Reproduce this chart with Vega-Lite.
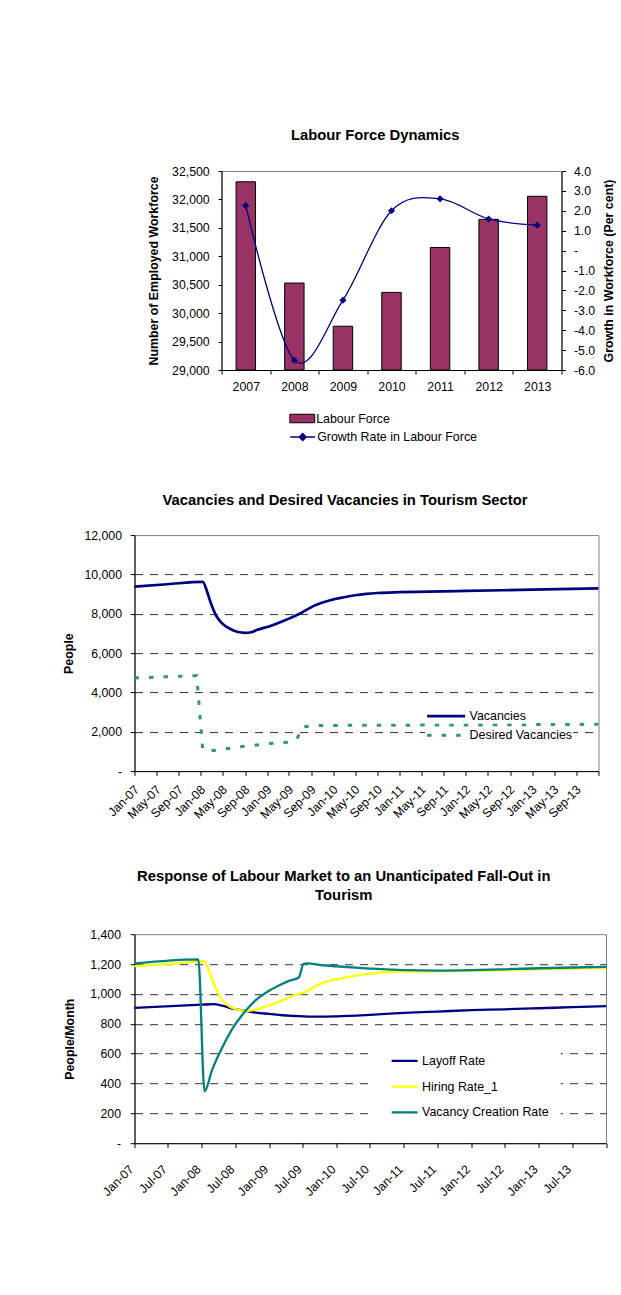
{
  "$schema": "https://vega.github.io/schema/vega-lite/v6.json",
  "background": "white",
  "padding": {"left": 61.5, "top": 127, "right": 0, "bottom": 0},
  "config": {
    "font": "Liberation Sans",
    "view": {"stroke": "#808080", "strokeWidth": 1},
    "axis": {
      "labelFont": "Liberation Sans",
      "labelFontSize": 12.3,
      "labelColor": "black",
      "titleFont": "Liberation Sans",
      "titleFontSize": 12.4,
      "titleFontWeight": "bold",
      "titleColor": "black",
      "domainColor": "black",
      "tickColor": "black",
      "domainWidth": 1,
      "tickWidth": 1,
      "grid": false,
      "labelOverlap": false,
      "labelFlush": false
    },
    "title": {"font": "Liberation Sans", "fontSize": 14.8, "fontWeight": "bold", "color": "black"},
    "legend": {"labelFont": "Liberation Sans", "labelFontSize": 12.4, "labelColor": "black", "title": null}
  },
  "datasets": {
    "labour": [
      {"year": "2007", "workforce": 32310, "growth": 2.26},
      {"year": "2008", "workforce": 30530, "growth": -5.51},
      {"year": "2009", "workforce": 29770, "growth": -2.49},
      {"year": "2010", "workforce": 30365, "growth": 2.0},
      {"year": "2011", "workforce": 31155, "growth": 2.6},
      {"year": "2012", "workforce": 31650, "growth": 1.59},
      {"year": "2013", "workforce": 32055, "growth": 1.28}
    ],
    "vacancies": [
      {"month": "2007-01-01", "value": 9380},
      {"month": "2007-07-01", "value": 9500},
      {"month": "2008-01-12", "value": 9625},
      {"month": "2008-02-07", "value": 9070},
      {"month": "2008-02-28", "value": 8480},
      {"month": "2008-03-25", "value": 7920},
      {"month": "2008-04-25", "value": 7540},
      {"month": "2008-06-10", "value": 7240},
      {"month": "2008-07-25", "value": 7070},
      {"month": "2008-09-01", "value": 7030},
      {"month": "2008-10-05", "value": 7060},
      {"month": "2008-11-04", "value": 7170},
      {"month": "2009-01-15", "value": 7370},
      {"month": "2009-04-20", "value": 7710},
      {"month": "2009-07-10", "value": 8050},
      {"month": "2009-09-12", "value": 8390},
      {"month": "2009-12-15", "value": 8690},
      {"month": "2010-03-01", "value": 8840},
      {"month": "2010-05-01", "value": 8940},
      {"month": "2010-07-01", "value": 9010},
      {"month": "2010-09-01", "value": 9055},
      {"month": "2011-01-01", "value": 9100},
      {"month": "2012-01-01", "value": 9160},
      {"month": "2013-01-01", "value": 9225},
      {"month": "2014-01-01", "value": 9290}
    ],
    "desired": [
      {"month": "2007-01-01", "value": 4740},
      {"month": "2007-12-10", "value": 4850},
      {"month": "2008-01-12", "value": 1100},
      {"month": "2008-03-15", "value": 1050},
      {"month": "2008-08-01", "value": 1230},
      {"month": "2009-02-01", "value": 1420},
      {"month": "2009-05-01", "value": 1475},
      {"month": "2009-06-12", "value": 1610},
      {"month": "2009-07-18", "value": 2254},
      {"month": "2009-10-18", "value": 2320},
      {"month": "2010-06-01", "value": 2330},
      {"month": "2012-01-01", "value": 2345},
      {"month": "2014-01-01", "value": 2380}
    ],
    "labour_market": [
      {"series": "Layoff Rate", "month": "2007-01-01", "value": 906},
      {"series": "Layoff Rate", "month": "2008-01-01", "value": 928},
      {"series": "Layoff Rate", "month": "2008-03-05", "value": 931},
      {"series": "Layoff Rate", "month": "2008-04-20", "value": 922},
      {"series": "Layoff Rate", "month": "2008-06-15", "value": 902},
      {"series": "Layoff Rate", "month": "2008-08-10", "value": 890},
      {"series": "Layoff Rate", "month": "2008-10-20", "value": 875},
      {"series": "Layoff Rate", "month": "2009-01-01", "value": 866},
      {"series": "Layoff Rate", "month": "2009-03-12", "value": 857},
      {"series": "Layoff Rate", "month": "2009-05-20", "value": 852},
      {"series": "Layoff Rate", "month": "2009-08-01", "value": 848},
      {"series": "Layoff Rate", "month": "2009-10-15", "value": 848},
      {"series": "Layoff Rate", "month": "2010-01-01", "value": 850},
      {"series": "Layoff Rate", "month": "2010-07-01", "value": 860},
      {"series": "Layoff Rate", "month": "2011-01-01", "value": 873},
      {"series": "Layoff Rate", "month": "2011-07-01", "value": 882},
      {"series": "Layoff Rate", "month": "2012-01-01", "value": 891},
      {"series": "Layoff Rate", "month": "2012-07-01", "value": 897},
      {"series": "Layoff Rate", "month": "2013-01-01", "value": 904},
      {"series": "Layoff Rate", "month": "2013-07-01", "value": 911},
      {"series": "Layoff Rate", "month": "2014-01-01", "value": 918},
      {"series": "Hiring Rate_1", "month": "2007-01-01", "value": 1186},
      {"series": "Hiring Rate_1", "month": "2007-07-01", "value": 1200},
      {"series": "Hiring Rate_1", "month": "2008-01-12", "value": 1219},
      {"series": "Hiring Rate_1", "month": "2008-02-01", "value": 1181},
      {"series": "Hiring Rate_1", "month": "2008-02-28", "value": 1092},
      {"series": "Hiring Rate_1", "month": "2008-03-25", "value": 1013},
      {"series": "Hiring Rate_1", "month": "2008-04-22", "value": 957},
      {"series": "Hiring Rate_1", "month": "2008-05-28", "value": 917},
      {"series": "Hiring Rate_1", "month": "2008-07-12", "value": 895},
      {"series": "Hiring Rate_1", "month": "2008-09-06", "value": 886},
      {"series": "Hiring Rate_1", "month": "2008-10-18", "value": 895},
      {"series": "Hiring Rate_1", "month": "2009-01-01", "value": 924},
      {"series": "Hiring Rate_1", "month": "2009-03-12", "value": 957},
      {"series": "Hiring Rate_1", "month": "2009-05-21", "value": 991},
      {"series": "Hiring Rate_1", "month": "2009-07-15", "value": 1013},
      {"series": "Hiring Rate_1", "month": "2009-10-15", "value": 1074},
      {"series": "Hiring Rate_1", "month": "2010-01-01", "value": 1098},
      {"series": "Hiring Rate_1", "month": "2010-07-01", "value": 1136},
      {"series": "Hiring Rate_1", "month": "2011-01-01", "value": 1150},
      {"series": "Hiring Rate_1", "month": "2011-07-01", "value": 1152},
      {"series": "Hiring Rate_1", "month": "2012-01-01", "value": 1155},
      {"series": "Hiring Rate_1", "month": "2012-07-01", "value": 1160},
      {"series": "Hiring Rate_1", "month": "2013-01-01", "value": 1165},
      {"series": "Hiring Rate_1", "month": "2013-07-01", "value": 1170},
      {"series": "Hiring Rate_1", "month": "2014-01-01", "value": 1173},
      {"series": "Vacancy Creation Rate", "month": "2007-01-01", "value": 1204},
      {"series": "Vacancy Creation Rate", "month": "2007-12-13", "value": 1232},
      {"series": "Vacancy Creation Rate", "month": "2008-01-16", "value": 347},
      {"series": "Vacancy Creation Rate", "month": "2008-02-25", "value": 488},
      {"series": "Vacancy Creation Rate", "month": "2008-04-22", "value": 644},
      {"series": "Vacancy Creation Rate", "month": "2008-06-15", "value": 767},
      {"series": "Vacancy Creation Rate", "month": "2008-08-28", "value": 890},
      {"series": "Vacancy Creation Rate", "month": "2008-10-18", "value": 957},
      {"series": "Vacancy Creation Rate", "month": "2008-12-12", "value": 1007},
      {"series": "Vacancy Creation Rate", "month": "2009-02-25", "value": 1058},
      {"series": "Vacancy Creation Rate", "month": "2009-04-18", "value": 1087},
      {"series": "Vacancy Creation Rate", "month": "2009-06-10", "value": 1110},
      {"series": "Vacancy Creation Rate", "month": "2009-07-06", "value": 1201},
      {"series": "Vacancy Creation Rate", "month": "2009-07-25", "value": 1204},
      {"series": "Vacancy Creation Rate", "month": "2009-10-15", "value": 1192},
      {"series": "Vacancy Creation Rate", "month": "2010-01-01", "value": 1185},
      {"series": "Vacancy Creation Rate", "month": "2010-07-01", "value": 1170},
      {"series": "Vacancy Creation Rate", "month": "2011-01-01", "value": 1159},
      {"series": "Vacancy Creation Rate", "month": "2011-07-01", "value": 1156},
      {"series": "Vacancy Creation Rate", "month": "2012-01-01", "value": 1159},
      {"series": "Vacancy Creation Rate", "month": "2012-07-01", "value": 1165},
      {"series": "Vacancy Creation Rate", "month": "2013-01-01", "value": 1172},
      {"series": "Vacancy Creation Rate", "month": "2013-07-01", "value": 1177},
      {"series": "Vacancy Creation Rate", "month": "2014-01-01", "value": 1181}
    ]
  },
  "columns": 1,
  "align": "none",
  "spacing": 47.1,
  "resolve": {
    "scale": {"color": "independent", "fill": "independent", "stroke": "independent", "strokeDash": "independent"},
    "legend": {"color": "independent", "fill": "independent", "stroke": "independent", "strokeDash": "independent"}
  },
  "concat": [
    {
      "spacing": 0,
      "resolve": {
        "scale": {"fill": "independent", "stroke": "independent"},
        "legend": {"fill": "independent", "stroke": "independent"}
      },
      "hconcat": [
        {
          "width": 12,
          "height": 10,
          "view": {"stroke": null},
          "data": {"values": []},
          "mark": {"type": "point", "opacity": 0}
        },
        {
          "width": 340,
          "height": 199,
          "title": {"text": "Labour Force Dynamics", "offset": 22, "dx": -16.3},
          "data": {"name": "labour"},
          "layer": [
            {
              "mark": {"type": "bar", "stroke": "black", "strokeWidth": 1, "width": {"band": 0.4}},
              "encoding": {
                "x": {
                  "field": "year",
                  "type": "ordinal",
                  "scale": {"paddingInner": 0, "paddingOuter": 0},
                  "axis": {"title": null, "labelAngle": 0, "tickBand": "extent", "tickSize": 4, "labelPadding": 6.5}
                },
                "y": {
                  "field": "workforce",
                  "type": "quantitative",
                  "scale": {"domain": [29000, 32500], "zero": false, "nice": false},
                  "axis": {
                    "title": "Number of Employed Workforce",
                    "values": [29000, 29500, 30000, 30500, 31000, 31500, 32000, 32500],
                    "labelExpr": "format(datum.value, ',')",
                    "tickSize": 3.5,
                    "labelPadding": 8.8,
                    "titlePadding": 11.4
                  }
                },
                "y2": {"datum": 29000},
                "fill": {
                  "datum": "Labour Force",
                  "type": "nominal",
                  "scale": {"range": ["#993366"]},
                  "legend": {
                    "orient": "none",
                    "legendX": 67.7,
                    "legendY": 241.5,
                    "padding": 0,
                    "clipHeight": 12,
                    "symbolType": "M-1,-0.34H1V0.34H-1Z",
                    "symbolSize": 625,
                    "symbolStrokeColor": "black",
                    "symbolStrokeWidth": 1,
                    "labelOffset": 1
                  }
                }
              }
            },
            {
              "layer": [
                {
                  "mark": {"type": "line", "interpolate": "cardinal", "strokeWidth": 1.3},
                  "encoding": {
                    "x": {"field": "year", "type": "ordinal"},
                    "y": {
                      "field": "growth",
                      "type": "quantitative",
                      "scale": {"domain": [-6, 4], "zero": false, "nice": false},
                      "axis": {
                        "orient": "right",
                        "title": "Growth in Workforce (Per cent)",
                        "titleAngle": 270,
                        "titleBaseline": "top",
                        "values": [-6, -5, -4, -3, -2, -1, 0, 1, 2, 3, 4],
                        "labelExpr": "datum.value == 0 ? '-' : (datum.value < 0 ? '-' : '') + format(abs(datum.value), '.1f')",
                        "tickSize": 4,
                        "labelPadding": 8,
                        "titlePadding": 7.5
                      }
                    },
                    "stroke": {
                      "datum": "Growth Rate in Labour Force",
                      "type": "nominal",
                      "scale": {"range": ["#000080"]},
                      "legend": {
                        "orient": "none",
                        "legendX": 67.7,
                        "legendY": 260,
                        "padding": 0,
                        "clipHeight": 12,
                        "symbolType": "M-1,0H1M0,-0.28L0.28,0L0,0.28L-0.28,0Z",
                        "symbolSize": 625,
                        "symbolStrokeWidth": 1.3,
                        "symbolFillColor": "#000080",
                        "labelOffset": 1
                      }
                    }
                  }
                },
                {
                  "mark": {"type": "point", "shape": "diamond", "filled": true, "size": 50, "color": "#000080", "opacity": 1},
                  "encoding": {
                    "x": {"field": "year", "type": "ordinal"},
                    "y": {
                      "field": "growth",
                      "type": "quantitative",
                      "scale": {"domain": [-6, 4], "zero": false, "nice": false},
                      "axis": {
                        "orient": "right",
                        "title": "Growth in Workforce (Per cent)",
                        "titleAngle": 270,
                        "titleBaseline": "top",
                        "values": [-6, -5, -4, -3, -2, -1, 0, 1, 2, 3, 4],
                        "labelExpr": "datum.value == 0 ? '-' : (datum.value < 0 ? '-' : '') + format(abs(datum.value), '.1f')",
                        "tickSize": 4,
                        "labelPadding": 8,
                        "titlePadding": 7.5
                      }
                    }
                  }
                }
              ]
            }
          ],
          "resolve": {"scale": {"y": "independent"}}
        }
      ]
    },
    {
      "width": 464,
      "height": 236,
      "title": {"text": "Vacancies and Desired Vacancies in Tourism Sector", "offset": 21, "dx": -21.5},
      "encoding": {
        "x": {
          "field": "month",
          "type": "temporal",
          "scale": {
            "type": "utc",
            "domain": [{"year": 2007, "month": 1, "date": 1, "utc": true}, {"year": 2014, "month": 1, "date": 1, "utc": true}],
            "nice": false
          },
          "axis": {
            "title": null,
            "tickCount": {"interval": "month", "step": 4},
            "labelExpr": "utcyear(datum.value) >= 2014 ? '' : utcFormat(datum.value, '%b-%y')",
            "labelAngle": -45,
            "labelAlign": "right",
            "labelBaseline": "top",
            "labelOffset": -2.3,
            "tickSize": 4.3,
            "labelPadding": 7.5
          }
        },
        "y": {
          "field": "value",
          "type": "quantitative",
          "scale": {"domain": [0, 12000], "nice": false},
          "axis": {
            "title": "People",
            "values": [0, 2000, 4000, 6000, 8000, 10000, 12000],
            "labelExpr": "datum.value == 0 ? '-' : format(datum.value, ',')",
            "tickSize": 4.3,
            "labelPadding": 8.7,
            "titlePadding": 8,
            "grid": true,
            "gridColor": "#333333",
            "gridDash": [8, 7],
            "gridOpacity": {"condition": {"test": "datum.value == 0 || datum.value == 12000", "value": 0}, "value": 1}
          }
        }
      },
      "layer": [
        {
          "data": {"name": "vacancies"},
          "mark": {"type": "line", "interpolate": "monotone", "strokeWidth": 2.7},
          "encoding": {
            "color": {
              "datum": "Vacancies",
              "type": "nominal",
              "scale": {"range": ["#000080"]},
              "legend": {
                "orient": "none",
                "legendX": 290.6,
                "legendY": 174.5,
                "padding": 0.5,
                "fillColor": "white",
                "clipHeight": 12,
                "symbolType": "stroke",
                "symbolSize": 1444,
                "symbolStrokeWidth": 2.7,
                "labelOffset": 3
              }
            }
          }
        },
        {
          "data": {"name": "desired"},
          "mark": {"type": "line", "strokeWidth": 3, "color": "#339966", "strokeCap": "butt"},
          "encoding": {
            "strokeDash": {
              "datum": "Desired Vacancies",
              "type": "nominal",
              "scale": {"range": [[4.5, 10]]},
              "legend": {
                "orient": "none",
                "legendX": 290.6,
                "legendY": 193.7,
                "padding": 0.5,
                "fillColor": "white",
                "clipHeight": 12,
                "symbolType": "stroke",
                "symbolSize": 1444,
                "symbolStrokeColor": "#339966",
                "symbolStrokeWidth": 3,
                "labelOffset": 3
              }
            }
          }
        }
      ]
    },
    {
      "width": 471.5,
      "height": 209,
      "title": {
        "text": ["Response of Labour Market to an Unanticipated Fall-Out in", "Tourism"],
        "lineHeight": 19,
        "offset": 25.4,
        "dx": -26.5
      },
      "data": {"name": "labour_market"},
      "mark": {"type": "line", "interpolate": "monotone", "strokeWidth": 2.3},
      "encoding": {
        "x": {
          "field": "month",
          "type": "temporal",
          "scale": {
            "type": "utc",
            "domain": [{"year": 2007, "month": 1, "date": 1, "utc": true}, {"year": 2014, "month": 1, "date": 1, "utc": true}],
            "nice": false
          },
          "axis": {
            "title": null,
            "tickCount": {"interval": "month", "step": 6},
            "labelExpr": "utcyear(datum.value) >= 2014 ? '' : utcFormat(datum.value, '%b-%y')",
            "labelAngle": -45,
            "labelAlign": "right",
            "labelBaseline": "top",
            "labelOffset": -7.7,
            "tickSize": 4.3,
            "labelPadding": 15
          }
        },
        "y": {
          "field": "value",
          "type": "quantitative",
          "scale": {"domain": [0, 1400], "nice": false},
          "axis": {
            "title": "People/Month",
            "values": [0, 200, 400, 600, 800, 1000, 1200, 1400],
            "labelExpr": "datum.value == 0 ? '-' : format(datum.value, ',')",
            "tickSize": 4.3,
            "labelPadding": 9.7,
            "titlePadding": 12.8,
            "grid": true,
            "gridColor": "#333333",
            "gridDash": [8, 7],
            "gridOpacity": {"condition": {"test": "datum.value == 0 || datum.value == 1400", "value": 0}, "value": 1}
          }
        },
        "color": {
          "field": "series",
          "type": "nominal",
          "scale": {
            "domain": ["Layoff Rate", "Hiring Rate_1", "Vacancy Creation Rate"],
            "range": ["#000080", "#FFFF00", "#008080"]
          },
          "legend": {
            "orient": "none",
            "legendX": 236.1,
            "legendY": 108.2,
            "padding": 12,
            "fillColor": "white",
            "clipHeight": 13,
            "rowPadding": 12.7,
            "symbolOffset": 7.5,
            "symbolType": "stroke",
            "symbolSize": 676,
            "symbolStrokeWidth": 2.3,
            "labelOffset": 3
          }
        }
      }
    }
  ]
}
